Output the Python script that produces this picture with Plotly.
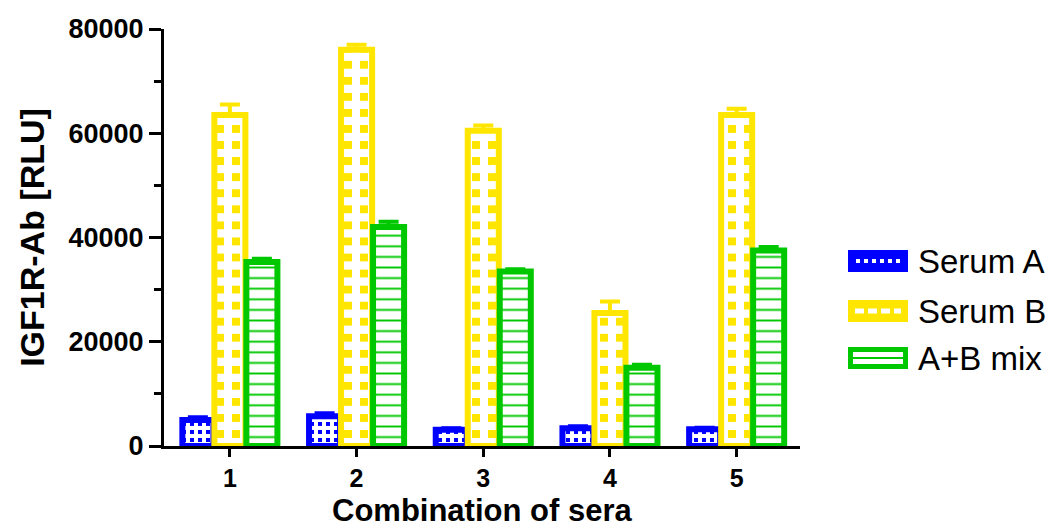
import plotly.graph_objects as go

# Combinations of sera on the x axis
groups = ["1", "2", "3", "4", "5"]
group_pos = [1, 2, 3, 4, 5]

# Mean signal and SD per series [RLU]
serum_a = [5000, 5700, 3100, 3400, 3200]
serum_a_sd = [500, 600, 300, 400, 300]
serum_b = [63500, 76000, 60500, 25500, 63500]
serum_b_sd = [2000, 1000, 1000, 2200, 1200]
mix_ab = [35300, 42000, 33500, 15000, 37500]
mix_ab_sd = [600, 1000, 400, 600, 700]

y_ticks = [0, 20000, 40000, 60000, 80000]

BLUE = "#0000ff"
YELLOW = "#ffe600"
GREEN = "#00c800"
WHITE = "#ffffff"

BAR_W = 0.245           # bar width in category units
SHIFT = 0.2526          # spacing between neighbouring bars of a group
OUTLINE = 6

# plot-area geometry (pixels) used to place the hand-drawn legend and x title
L, R, T, B = 164, 800, 29, 446
W_PX, H_PX = 1051, 528


def px_x(px):
    return (px - L) / (R - L)


def px_y(py):
    return (B - py) / (B - T)


def checker_rows(positions, values, row, color):
    """Split each bar into stacked rows whose stripe phase alternates,
    giving a checkerboard texture."""
    xs, bases, heights, fg, bg = [], [], [], [], []
    for x, v in zip(positions, values):
        k = 0
        while k * row < v:
            h = min(row, v - k * row)
            xs.append(x)
            bases.append(k * row)
            heights.append(h)
            if k % 2 == 0:
                fg.append(color)
                bg.append(WHITE)
            else:
                fg.append(WHITE)
                bg.append(color)
            k += 1
    return xs, bases, heights, fg, bg


def texture_trace(positions, values, row, color, size):
    xs, bases, heights, fg, bg = checker_rows(positions, values, row, color)
    return go.Bar(
        x=xs, y=heights, base=bases, width=BAR_W,
        marker=dict(
            color=bg, line=dict(width=0),
            pattern=dict(shape="|", size=size, solidity=0.5,
                         fgcolor=fg, bgcolor=bg, fillmode="replace"),
        ),
        showlegend=False, hoverinfo="skip",
    )


def outline_trace(name, positions, values, sd, color, fill="rgba(0,0,0,0)", pattern=None):
    marker = dict(color=fill, line=dict(color=color, width=OUTLINE))
    if pattern is not None:
        marker["pattern"] = pattern
    return go.Bar(
        name=name, x=positions, y=values, width=BAR_W,
        marker=marker,
        error_y=dict(type="data", array=sd, arrayminus=[0] * len(sd),
                     symmetric=False, color=color, thickness=4, width=10),
        showlegend=False,
    )


pos_a = [p - SHIFT for p in group_pos]
pos_b = list(group_pos)
pos_m = [p + SHIFT for p in group_pos]

fig = go.Figure()

# Serum A: fine blue checkerboard
fig.add_trace(texture_trace(pos_a, serum_a, 770, BLUE, 8))
fig.add_trace(outline_trace("Serum A", pos_a, serum_a, serum_a_sd, BLUE))

# Serum B: coarse yellow checkerboard
fig.add_trace(texture_trace(pos_b, serum_b, 1540, YELLOW, 16))
fig.add_trace(outline_trace("Serum B", pos_b, serum_b, serum_b_sd, YELLOW))

# A+B mix: horizontal green rules on white
fig.add_trace(outline_trace(
    "A+B mix", pos_m, mix_ab, mix_ab_sd, GREEN, fill=WHITE,
    pattern=dict(shape="-", size=10.6, solidity=0.18,
                 fgcolor=GREEN, bgcolor=WHITE, fillmode="replace"),
))

FONT = "Liberation Sans, Arial, sans-serif"

fig.update_layout(
    width=W_PX, height=H_PX,
    margin=dict(l=L, r=W_PX - R, t=T, b=H_PX - B, pad=0),
    paper_bgcolor="white", plot_bgcolor="white",
    barmode="overlay",
    showlegend=False,
    font=dict(family=FONT, color="black"),
)

fig.update_xaxes(
    range=[0.48, 5.5],
    automargin=False,
    tickmode="array", tickvals=group_pos, ticktext=groups,
    ticks="outside", ticklen=8, tickwidth=3, tickcolor="black",
    showline=True, linewidth=3, linecolor="black",
    showgrid=False, zeroline=False,
    tickfont=dict(family=FONT, size=25, weight="bold", color="black"),
)

fig.update_yaxes(
    range=[0, 80000],
    automargin=False,
    tickmode="array", tickvals=y_ticks, tickformat="d",
    ticks="outside", ticklen=12, tickwidth=3, tickcolor="black",
    minor=dict(dtick=10000, tick0=0, ticks="outside", ticklen=7,
               tickwidth=3, tickcolor="black"),
    showline=True, linewidth=3, linecolor="black",
    showgrid=False, zeroline=False,
    tickfont=dict(family=FONT, size=27, weight="bold", color="black"),
    title=dict(text="IGF1R-Ab [RLU]", standoff=14,
               font=dict(family=FONT, size=34, weight="bold", color="black")),
)

# x-axis title, set just below the tick labels
annotations = [dict(
    text="Combination of sera", xref="paper", yref="paper",
    x=0.5, y=px_y(510), xanchor="center", yanchor="middle", showarrow=False,
    font=dict(family=FONT, size=31, weight="bold", color="black"),
)]

# Legend drawn by hand: swatch boxes with a hint of each fill, plus labels
legend_items = [
    ("Serum A", BLUE, 261),
    ("Serum B", YELLOW, 311),
    ("A+B mix", GREEN, 358),
]
shapes = []
for label, color, cy in legend_items:
    shapes.append(dict(type="rect", xref="paper", yref="paper",
                       x0=px_x(848), x1=px_x(908), y0=px_y(cy + 11), y1=px_y(cy - 11),
                       fillcolor=color, line=dict(width=0), layer="above"))
    annotations.append(dict(text=label, xref="paper", yref="paper",
                            x=px_x(916), y=px_y(cy), xanchor="left", yanchor="middle",
                            showarrow=False,
                            font=dict(family=FONT, size=33, color="black")))

# inner markings of the swatches
shapes.append(dict(type="line", xref="paper", yref="paper",
                   x0=px_x(856), x1=px_x(900), y0=px_y(261), y1=px_y(261),
                   line=dict(color=WHITE, width=4, dash="dot"), layer="above"))
shapes.append(dict(type="line", xref="paper", yref="paper",
                   x0=px_x(855), x1=px_x(901), y0=px_y(311), y1=px_y(311),
                   line=dict(color=WHITE, width=5, dash="9px,4px"), layer="above"))
shapes.append(dict(type="rect", xref="paper", yref="paper",
                   x0=px_x(853), x1=px_x(903), y0=px_y(364), y1=px_y(352),
                   fillcolor=WHITE, line=dict(width=0), layer="above"))
shapes.append(dict(type="line", xref="paper", yref="paper",
                   x0=px_x(853), x1=px_x(903), y0=px_y(358), y1=px_y(358),
                   line=dict(color=GREEN, width=2), layer="above"))

fig.update_layout(shapes=shapes, annotations=annotations)

fig.write_html("out.html")
